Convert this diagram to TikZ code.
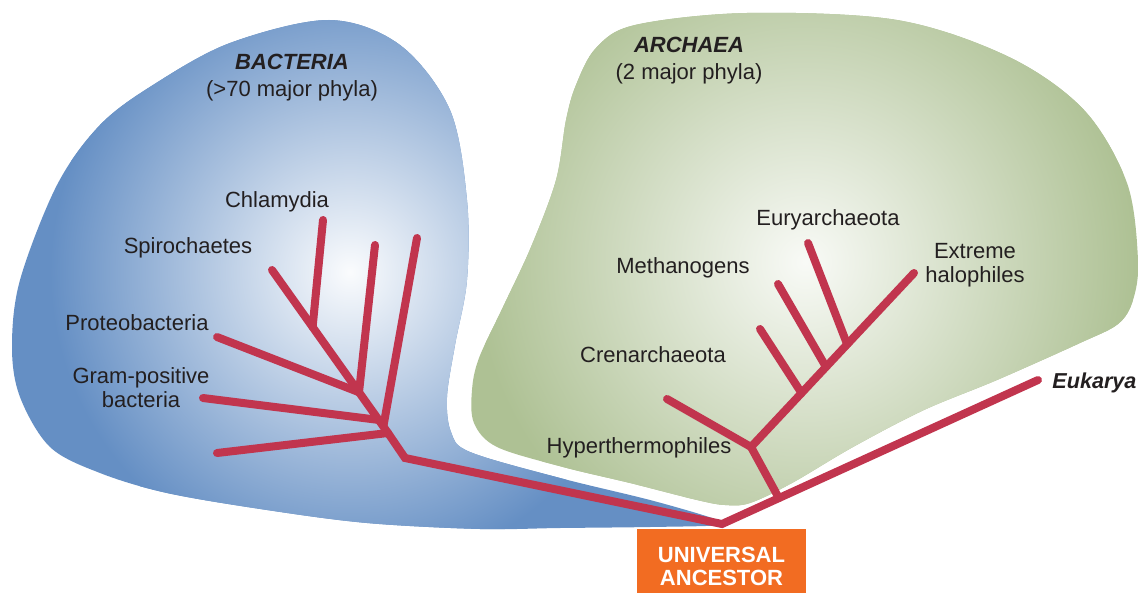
\documentclass[tikz,border=0pt]{standalone}
\usepackage{fontspec}
\setmainfont{Liberation Sans}
\usetikzlibrary{calc}
\definecolor{labelcol}{RGB}{35,31,32}
\definecolor{bactcol}{RGB}{101,143,196}
\definecolor{archcol}{RGB}{174,193,148}
\definecolor{branchcol}{RGB}{193,53,78}
\definecolor{ancestorcol}{RGB}{242,108,34}
\colorlet{bactglow}{white!97!bactcol}
\colorlet{archglow}{white!92!archcol}
\tikzset{every node/.style={font=\fontsize{11}{12}\selectfont, text=labelcol, align=center}}
\tikzset{branch/.style={line width=4pt, draw=branchcol, line cap=round, line join=miter}}
\tikzset{domainname/.style={font=\fontsize{11}{13.5}\selectfont}}
\tikzset{ancestorbox/.style={fill=ancestorcol, text=white, inner sep=0pt,
    minimum width=84.5pt, minimum height=32pt, text height=25pt,
    font=\fontsize{11}{11.5}\selectfont\bfseries}}

\begin{document}
\begin{tikzpicture}[x=0.5pt, y=-0.5pt]

  \useasboundingbox (0,0) rectangle (1139,593);

  % Bacteria domain.
  \begin{scope}
    \clip plot[smooth cycle, tension=0.55] coordinates {
      (329,20) (400,45) (450,110) (467,200) (467,280) (455,345) (447,397)
      (451,432) (470,452) (560,478) (650,500) (712,518) (722,525) (650,527)
      (560,528) (480,529) (367,523) (267,510) (167,493) (100,473) (50,447)
      (20,397) (12,347) (20,280) (57,185) (100,125) (153,85) (230,43)};
    \fill[bactcol] (0,0) rectangle (760,593);
    \shade[inner color=bactglow, outer color=bactcol] (350,272) circle (150pt);
  \end{scope}

  % Archaea domain.
  \begin{scope}
    \clip plot[smooth cycle, tension=0.55] coordinates {
      (635,25) (747,13) (897,20) (1009,57) (1084,110) (1127,183) (1138,260)
      (1133,300) (1118,324) (1080,343) (997,380) (924,410) (853,447)
      (792,483) (750,503) (725,505) (697,500) (630,483) (563,467) (497,447)
      (474,423) (472,390) (479,358) (503,307) (531,247) (556,180) (566,120)
      (576,85) (596,48)};
    \fill[archcol] (460,0) rectangle (1139,593);
    \shade[inner color=archglow, outer color=archcol] (805,262) circle (165pt);
  \end{scope}

  % Tree points.
  \coordinate (root) at (722,524);
  \coordinate (bend) at (405,458);
  \coordinate (bfork) at (388,433);
  \coordinate (spiro) at (272,270);
  \coordinate (basal) at (217,453);
  \coordinate (longb) at (417,238);
  \coordinate (gram) at (203,398);
  \coordinate (proteo) at (217,337);
  \coordinate (midb) at (375,245);
  \coordinate (chlam) at (323,220);
  \coordinate (euk) at (1038,380);
  \coordinate (afork) at ($(root)!0.18!(euk)$);
  \coordinate (hyper) at (751,447);
  \coordinate (cren) at (667,399);
  \coordinate (halo) at (914,273);
  \coordinate (crenb) at (760,329);
  \coordinate (metha) at (778,284);
  \coordinate (eury) at (808,243);

  % Main stems.
  \draw[branch] (bfork) -- (bend) -- (root) -- (euk);
  \draw[branch] (bfork) -- (spiro);
  \draw[branch] (afork) -- (hyper) -- (halo);
  \draw[branch] (hyper) -- (cren);

  % Bacteria branches.
  \foreach \tip/\t in {basal/0, longb/0.04, gram/0.08, proteo/0.25, midb/0.25, chlam/0.65} {
    \draw[branch] ($(bfork)!\t!(spiro)$) -- (\tip);
  }

  % Archaea branches.
  \foreach \tip/\t in {crenb/0.31, metha/0.46, eury/0.59} {
    \draw[branch] ($(hyper)!\t!(halo)$) -- (\tip);
  }

  % Domain labels.
  \node[domainname] (bacteria) at (292,78) {\textbf{\textit{BACTERIA}}\\(>70 major phyla)};
  \node[domainname] (archaea) at (689,61) {\textbf{\textit{ARCHAEA}}\\(2 major phyla)};
  \node[anchor=west, inner sep=0pt, font=\fontsize{10.8}{12}\selectfont\bfseries\itshape] (eukarya) at (1052,383) {Eukarya};

  % Group labels.
  \node (chlamydia) at (277,202) {Chlamydia};
  \node (spirochaetes) at (188,248) {Spirochaetes};
  \node (proteobacteria) at (137,323) {Proteobacteria};
  \node (grampos) at (141,388) {Gram-positive\\bacteria};
  \node (euryarchaeota) at (828,220) {Euryarchaeota};
  \node (methanogens) at (683,268) {Methanogens};
  \node (halophiles) at (975,265) {Extreme\\halophiles};
  \node (crenarchaeota) at (653,355) {Crenarchaeota};
  \node (hyperthermophiles) at (639,448) {Hyperthermophiles};

  % Common root.
  \node[ancestorbox] (ancestor) at (721.5,561) {UNIVERSAL\\ANCESTOR};

\end{tikzpicture}
\end{document}
